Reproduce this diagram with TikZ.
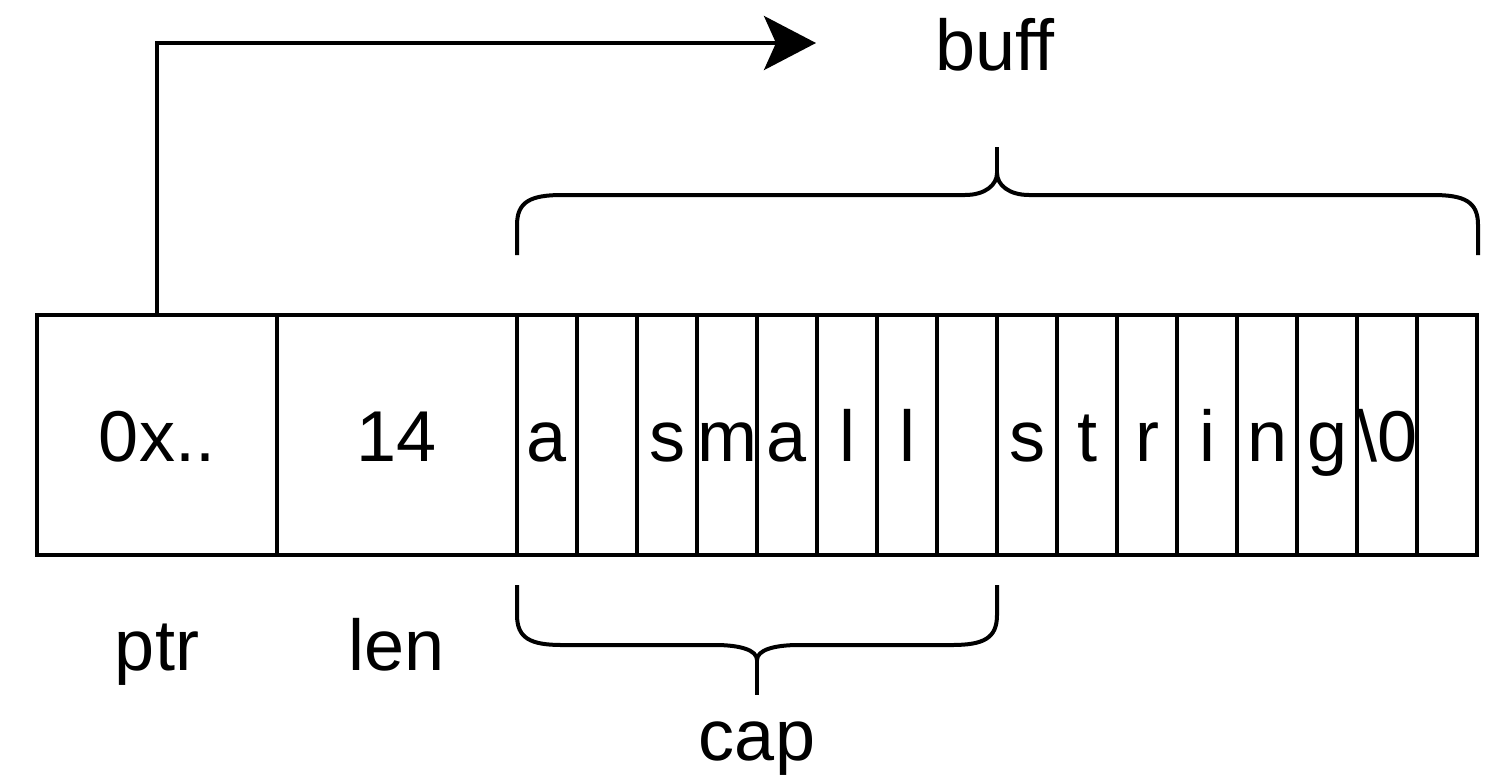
\documentclass[tikz,border=0pt]{standalone}
\usepackage{fontspec}
\setmainfont{Liberation Sans}
\usetikzlibrary{arrows.meta,positioning}

\def\CellW{30pt}
\def\FieldW{120pt}
\def\RowH{120pt}

\tikzset{
  field/.style={draw, line width=2pt, minimum width=\FieldW, minimum height=\RowH,
    inner sep=0pt, outer sep=0pt, text height=26pt, text depth=0pt},
  cell/.style={field, minimum width=\CellW},
  fieldname/.style={anchor=base, inner sep=0pt},
  pointer/.style={line width=2pt, -{Stealth[length=26pt, width=27pt, inset=6pt]}},
  brace/.style={line width=2pt, line join=round},
}

\begin{document}
\begin{tikzpicture}[x=0.5pt, y=-0.5pt, font=\fontsize{36pt}{43pt}\selectfont]
\useasboundingbox (0,0) rectangle (1491,776);

\node[field] (ptr) at (157,435) {0x..};
\node[field, right=0pt of ptr] (len) {14};
\foreach \ch [count=\i from 0] in {a,{},s,m,a,l,l,{},s,t,r,i,n,g,{\textbackslash 0},{}}
  \node[cell] (c\i) at (547+60*\i,435) {\ch};

\node[fieldname] (ptrname) at (157,670) {ptr};
\node[fieldname] (lenname) at (397,670) {len};
\node[fieldname] (capname) at (757,760) {cap};
\node[fieldname] (buffname) at (995,70) {buff};

% pointer to the buffer
\coordinate (bufftip) at (816,43);
\draw[pointer] (ptr.north) |- (bufftip);

% buff brace
\draw[brace] (517,255) -- (517,225) .. controls (517,202) and (530,195) .. (562,195)
  -- (965,195) .. controls (985,195) and (997,185) .. (997,173)
  .. controls (997,185) and (1009,195) .. (1029,195)
  -- (1433,195) .. controls (1465,195) and (1478,202) .. (1478,225) -- (1478,255);
\draw[brace] (997,173) -- (997,147);

% cap brace
\draw[brace] (517,585) -- (517,615) .. controls (517,638) and (530,645) .. (562,645)
  -- (715,645) .. controls (740,645) and (757,650) .. (757,660)
  .. controls (757,650) and (774,645) .. (799,645)
  -- (952,645) .. controls (984,645) and (997,638) .. (997,615) -- (997,585);
\draw[brace] (757,660) -- (757,695);
\end{tikzpicture}
\end{document}
